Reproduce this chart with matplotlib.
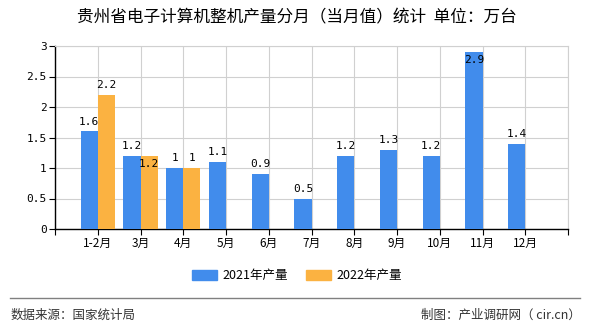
import numpy as np
import matplotlib.pyplot as plt
from matplotlib.lines import Line2D

plt.rcParams['font.family'] = ['Noto Sans CJK SC', 'DejaVu Sans']

months = ['1-2月', '3月', '4月', '5月', '6月', '7月', '8月', '9月', '10月', '11月', '12月']
prod_2021 = [1.6, 1.2, 1.0, 1.1, 0.9, 0.5, 1.2, 1.3, 1.2, 2.9, 1.4]
prod_2022 = [2.2, 1.2, 1.0]

c21 = '#418cec'
c22 = '#fbb241'

fig = plt.figure(figsize=(5.9, 3.3), dpi=100)
ax = fig.add_axes([55 / 590, 1 - 229 / 330, 513 / 590, 183 / 330])

x = np.arange(1, len(months) + 1)
w = 0.4
ax.bar(x - w / 2, prod_2021, w, color=c21, zorder=3)
x22 = x[:len(prod_2022)]
ax.bar(x22 + w / 2, prod_2022, w, color=c22, zorder=3)

def fmt(v):
    return ('%g' % v)

for xi, v in zip(x, prod_2021):
    if v > 2.8:
        ax.text(xi - w / 2, v - 0.04, fmt(v), ha='center', va='top', fontsize=8,
                family='DejaVu Sans Mono', zorder=4)
    else:
        ax.text(xi - w / 2, v + 0.08, fmt(v), ha='center', va='bottom', fontsize=8,
                family='DejaVu Sans Mono', zorder=4)
for i, (xi, v) in enumerate(zip(x22, prod_2022)):
    if i == 1:
        ax.text(xi + w / 2, v - 0.06, fmt(v), ha='center', va='top', fontsize=8,
                family='DejaVu Sans Mono', zorder=4)
    else:
        ax.text(xi + w / 2, v + 0.08, fmt(v), ha='center', va='bottom', fontsize=8,
                family='DejaVu Sans Mono', zorder=4)

ax.set_xlim(0, len(months) + 1)
ax.set_ylim(0, 3)
ax.set_xticks(np.arange(0, len(months) + 2))
ax.set_xticklabels([''] + months + [''], fontsize=8.5)
ax.set_yticks(np.arange(0, 3.01, 0.5))
ax.set_yticklabels(['0', '0.5', '1', '1.5', '2', '2.5', '3'], fontsize=8,
                   family='DejaVu Sans Mono')
ax.grid(True, color='#d0d0d0', lw=0.8, zorder=0)
ax.tick_params(axis='both', length=4, width=0.8, colors='black', pad=2)
for s in ['top', 'right']:
    ax.spines[s].set_color('#d0d0d0')
for s in ['left', 'bottom']:
    ax.spines[s].set_color('black')
    ax.spines[s].set_linewidth(1)

fig.text(297 / 590, 1 - 18 / 330, '贵州省电子计算机整机产量分月（当月值）统计  单位：万台',
         ha='center', va='center', fontsize=12)

handles = [plt.Rectangle((0, 0), 1, 1, color=c21), plt.Rectangle((0, 0), 1, 1, color=c22)]
fig.legend(handles, ['2021年产量', '2022年产量'], loc='center', ncol=2,
           bbox_to_anchor=(297 / 590, 1 - 276 / 330), frameon=False, fontsize=9,
           handlelength=2.0, handleheight=0.8, columnspacing=1.5, handletextpad=0.4)

fig.add_artist(Line2D([10 / 590, 580 / 590], [1 - 298 / 330] * 2, color='#808080', lw=1))
fig.text(11 / 590, 1 - 315 / 330, '数据来源：国家统计局', ha='left', va='center',
         fontsize=9, color='#333333')
fig.text(581 / 590, 1 - 315 / 330, '制图：产业调研网（ cir.cn）', ha='right', va='center',
         fontsize=9, color='#333333')

fig.savefig('out.png', dpi=100)
